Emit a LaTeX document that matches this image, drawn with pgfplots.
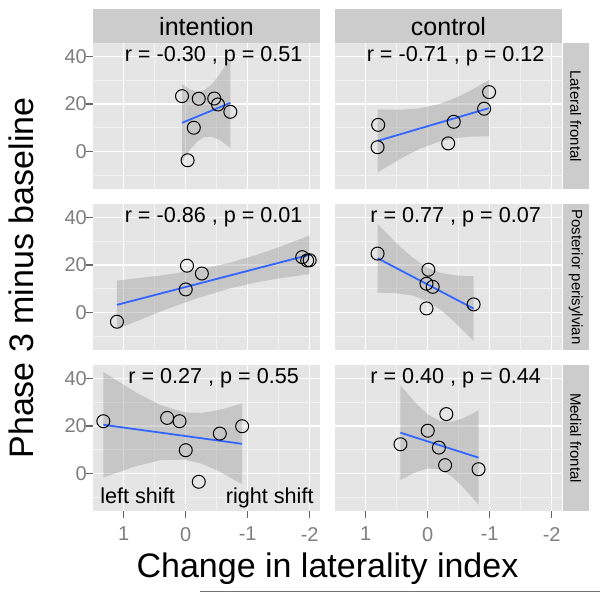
\documentclass[border=0pt]{standalone}
\usepackage{fontspec}
\setmainfont{Liberation Sans}
\usepackage{pgfplots}
\pgfplotsset{compat=1.18}
\definecolor{panelbg}{HTML}{E5E5E5}
\definecolor{minorgrid}{HTML}{F2F2F2}
\definecolor{stripbg}{HTML}{CCCCCC}
\definecolor{tickgray}{HTML}{666666}
\definecolor{labelgray}{HTML}{7F7F7F}
\definecolor{fitblue}{HTML}{3366FF}
\definecolor{ribbon}{HTML}{999999}
\newcommand{\ticksize}{\fontsize{20}{20}\selectfont}
\newcommand{\annsize}{\fontsize{21.6}{22}\selectfont}
\tikzset{tickmark/.style={draw=tickgray, line width=1.2pt}}
% tick marks below / left of the outer panels
\newcommand{\xticksmarks}{\pgfplotsinvokeforeach{-2,-1,0,1}{\draw[tickmark] (axis cs:##1,-15.8) -- ++(0pt,-7pt);}}
\newcommand{\yticksmarks}{\pgfplotsinvokeforeach{0,20,40}{\draw[tickmark] (axis cs:1.497,##1) -- ++(-7pt,0pt);}}

\pgfplotsset{
  facet/.style={
    scale only axis, width=227pt, height=145.8pt,
    anchor=south west, clip=false,
    x dir=reverse, xmin=-2.167, xmax=1.497,
    ymin=-15.8, ymax=45.6,
    xtick={-2,-1,0,1}, ytick={0,20,40},
    minor xtick={-1.5,-0.5,0.5}, minor ytick={-10,10,30},
    grid=both,
    major grid style={white, line width=1.3pt},
    minor grid style={minorgrid, line width=0.7pt},
    axis background/.style={fill=panelbg},
    axis line style={draw=none},
    major tick length=0pt, minor tick length=0pt,
    xticklabels={-2,-1,0,1}, yticklabels={0,20,40},
    xticklabel style={font=\ticksize, text=labelgray, anchor=north, inner sep=0pt, yshift=-16pt},
    yticklabel style={font=\ticksize, text=labelgray, anchor=east, inner sep=0pt, xshift=-6pt},
  },
  hidex/.style={xticklabels={}},
  hidey/.style={yticklabels={}},
  pts/.style={only marks, mark=o, mark size=6.5pt, black, line width=1pt},
  fit/.style={fitblue, line width=1.8pt},
  band/.style={draw=none, fill=ribbon, fill opacity=0.4},
}

\begin{document}
\begin{tikzpicture}
\fill[white] (0pt,0pt) rectangle (600pt,593pt);
\path[use as bounding box] (0pt,0pt) rectangle (600pt,593pt);

% row 1: Lateral frontal
\begin{axis}[facet, hidex, at={(93pt,404pt)}]
\addplot[band] coordinates {(0.06,28.30)(-0.079,26.08)(-0.183,25.26)(-0.287,25.65)(-0.417,28.17)(-0.547,32.42)(-0.72,39.39)
 (-0.72,1.57)(-0.547,4.80)(-0.417,6.23)(-0.287,5.95)(-0.183,4.10)(-0.079,1.02)(0.06,-4.20)};
\addplot[fit] coordinates {(0.06,12.05)(-0.72,20.48)};
\addplot[pts] coordinates {(0.06,23.3)(-0.21,22.2)(-0.46,22.3)(-0.52,19.8)(-0.72,16.7)(-0.13,10.0)(-0.03,-3.7)};
\node[font=\annsize] at (axis cs:-0.45,40) {r = -0.30 , p = 0.51};
\yticksmarks
\end{axis}

\begin{axis}[facet, hidex, hidey, at={(335pt,404pt)}]
\addplot[band] coordinates {(0.81,17.69)(0.417,17.62)(0.122,18.25)(-0.173,19.89)(-0.418,22.21)(-0.663,25.26)(-0.99,30.11)
 (-0.99,6.39)(-0.663,6.22)(-0.418,5.51)(-0.173,4.07)(0.122,1.19)(0.417,-2.72)(0.81,-8.81)};
\addplot[fit] coordinates {(0.81,4.44)(-0.99,18.25)};
\addplot[pts] coordinates {(0.80,11.2)(0.81,1.8)(-0.42,12.5)(-0.33,3.4)(-0.91,18.0)(-0.99,25.0)};
\node[font=\annsize] at (axis cs:-0.45,40) {r = -0.71 , p = 0.12};
\end{axis}

% row 2: Posterior perisylvian
\begin{axis}[facet, hidex, at={(93pt,243pt)}]
\addplot[band] coordinates {(1.11,13.42)(0.38,15.65)(-0.168,17.86)(-0.716,21.00)(-1.101,23.91)(-1.486,27.33)(-2.0,32.44)
 (-2.0,16.16)(-1.486,14.29)(-1.101,12.49)(-0.716,10.18)(-0.168,5.88)(0.38,0.67)(1.11,-7.00)};
\addplot[fit] coordinates {(1.11,3.21)(-2.0,24.30)};
\addplot[pts] coordinates {(1.11,-3.9)(-0.02,19.7)(-0.26,16.4)(0.0,9.7)(-1.88,23.3)(-1.96,21.9)(-2.0,22.0)};
\node[font=\annsize] at (axis cs:-0.45,40) {r = -0.86 , p = 0.01};
\yticksmarks
\end{axis}

\begin{axis}[facet, hidex, hidey, at={(335pt,243pt)}]
\addplot[band] coordinates {(0.81,37.32)(0.487,28.77)(0.245,23.11)(0.003,18.84)(-0.22,16.62)(-0.443,15.62)(-0.74,15.25)
 (-0.74,-11.97)(-0.443,-4.22)(-0.22,0.88)(0.003,4.76)(0.245,7.11)(0.487,8.07)(0.81,8.36)};
\addplot[fit] coordinates {(0.81,22.84)(-0.74,1.64)};
\addplot[pts] coordinates {(0.81,24.8)(-0.01,18.0)(0.02,12.1)(-0.08,10.8)(0.02,1.7)(-0.74,3.4)};
\node[font=\annsize] at (axis cs:-0.45,40) {r = 0.77 , p = 0.07};
\end{axis}

% row 3: Medial frontal
\begin{axis}[facet, at={(93pt,82pt)}]
\addplot[band] coordinates {(1.33,42.73)(0.802,34.13)(0.405,28.77)(0.009,25.70)(-0.267,25.55)(-0.542,26.74)(-0.91,29.50)
 (-0.91,-4.54)(-0.542,0.84)(-0.267,4.01)(0.009,5.84)(0.405,5.61)(0.802,3.09)(1.33,-1.71)};
\addplot[fit] coordinates {(1.33,20.51)(-0.91,12.48)};
\addplot[pts] coordinates {(1.33,22.0)(0.30,23.4)(0.10,22.0)(0.0,9.8)(-0.21,-3.5)(-0.55,16.8)(-0.91,19.9)};
\node[font=\annsize] at (axis cs:-0.45,40) {r = 0.27 , p = 0.55};
\node[font=\annsize, anchor=base west] at (axis cs:1.435,-12.6) {left shift};
\node[font=\annsize, anchor=base east] at (axis cs:-2.12,-12.6) {right shift};
\xticksmarks
\yticksmarks
\end{axis}

\begin{axis}[facet, hidey, at={(335pt,82pt)}]
\addplot[band] coordinates {(0.44,37.04)(0.188,29.52)(-0.001,24.91)(-0.19,22.10)(-0.379,21.75)(-0.568,23.22)(-0.82,26.54)
 (-0.82,-13.20)(-0.568,-5.68)(-0.379,-1.07)(-0.19,1.74)(-0.001,2.09)(0.188,0.62)(0.44,-2.70)};
\addplot[fit] coordinates {(0.44,17.17)(-0.82,6.67)};
\addplot[pts] coordinates {(-0.30,25.0)(0.0,18.0)(0.44,12.3)(-0.18,10.9)(-0.28,3.5)(-0.82,1.8)};
\node[font=\annsize] at (axis cs:-0.45,40) {r = 0.40 , p = 0.44};
\xticksmarks
\end{axis}

% strips
\fill[stripbg] (93pt,549.8pt) rectangle (320pt,584pt);
\fill[stripbg] (335pt,549.8pt) rectangle (562pt,584pt);
\node[font=\fontsize{25}{25}\selectfont] at (206.5pt,566pt) {intention};
\node[font=\fontsize{25}{25}\selectfont] at (448.5pt,566pt) {control};
\foreach \yb/\lab in {404/Lateral frontal, 243/Posterior perisylvian, 82/Medial frontal}{
  \fill[stripbg] (563pt,\yb pt) rectangle (588.5pt,\yb pt+145.8pt);
  \node[font=\fontsize{15}{15}\selectfont, rotate=-90] at (575.75pt,\yb pt+72.9pt) {\lab};
}

% axis titles
\node[font=\fontsize{34}{34}\selectfont, anchor=base] at (327.5pt,15.5pt) {Change in laterality index};
\node[font=\fontsize{34}{34}\selectfont, anchor=base, rotate=90] at (33pt,315pt) {Phase 3 minus baseline};
\draw[color=black!55, line width=1.2pt] (200pt,1.5pt) -- (600pt,1.5pt);
\end{tikzpicture}
\end{document}
